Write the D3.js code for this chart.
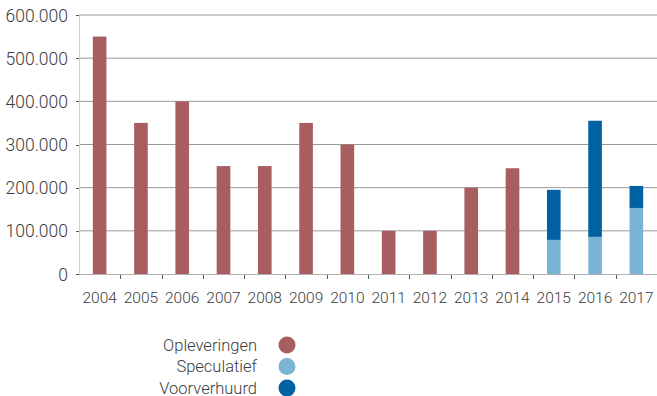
<!DOCTYPE html>
<html><head><meta charset="utf-8">
<script src="https://cdn.jsdelivr.net/npm/d3@7"></script>
<style>body{margin:0;background:#fff;} text{font-family:Roboto, "DejaVu Sans", sans-serif;}</style>
</head><body>
<svg id="c" width="657" height="396"></svg>
<script>
const years = ["2004","2005","2006","2007","2008","2009","2010","2011","2012","2013","2014","2015","2016","2017"];
const opleveringen = [550000,350000,400000,250000,250000,350000,300000,100000,100000,200000,245000,0,0,0];
const speculatief = [0,0,0,0,0,0,0,0,0,0,0,79000,86000,153000];
const voorverhuurd = [0,0,0,0,0,0,0,0,0,0,0,116000,269000,51000];
const yTicks = [0,100000,200000,300000,400000,500000,600000];
const seriesNames = ["Opleveringen","Speculatief","Voorverhuurd"];
const colors = ["#a85e60","#7ab4d4","#0061a3"];

const svg = d3.select("#c");
const x = d3.scaleBand().domain(years).range([79,657]).paddingInner(0.67).paddingOuter(0.335);
const xb = d3.scaleBand().domain(years).range([79,657]);
const y = d3.scaleLinear().domain([0,600000]).range([274,15]);
const fmt = v => v===0 ? "0" : d3.format(",")(v).replace(/,/g,".");

// gridlines
svg.append("g").selectAll("line").data(yTicks.filter(d=>d>0)).join("line")
  .attr("x1",79).attr("x2",657).attr("y1",d=>y(d)).attr("y2",d=>y(d))
  .attr("stroke","#9a9a9a").attr("stroke-width",1);
// y axis line
svg.append("line").attr("x1",79.5).attr("x2",79.5).attr("y1",15).attr("y2",274).attr("stroke","#d0d0d0");
// y ticks
svg.append("g").selectAll("line").data(yTicks).join("line")
  .attr("x1",76).attr("x2",79).attr("y1",d=>Math.round(y(d))+0.5).attr("y2",d=>Math.round(y(d))+0.5).attr("stroke","#555");
svg.append("g").selectAll("text").data(yTicks).join("text")
  .attr("x",68).attr("y",d=>y(d)+6.5).attr("text-anchor","end")
  .attr("font-size",17.5).attr("fill","#3c3c3c").attr("font-weight",300).text(fmt);

// stacked data
const rows = years.map((yr,i)=>({year:yr, Opleveringen:opleveringen[i], Speculatief:speculatief[i], Voorverhuurd:voorverhuurd[i]}));
const stack = d3.stack().keys(seriesNames)(rows);
svg.append("g").selectAll("g").data(stack).join("g")
  .attr("fill",(d,i)=>colors[i])
  .selectAll("rect").data(d=>d.filter(p=>p[1]-p[0]>0)).join("rect")
  .attr("x",d=>x(d.data.year)).attr("width",x.bandwidth())
  .attr("y",d=>y(d[1])).attr("height",d=>y(d[0])-y(d[1]));

// x axis
svg.append("line").attr("x1",79).attr("x2",657).attr("y1",274.5).attr("y2",274.5).attr("stroke","#b0b0b0");
svg.append("g").selectAll("line").data(years.slice(1)).join("line")
  .attr("x1",d=>Math.round(xb(d))+0.5).attr("x2",d=>Math.round(xb(d))+0.5).attr("y1",275).attr("y2",279).attr("stroke","#555");
svg.append("g").selectAll("text").data(years).join("text")
  .attr("x",d=>xb(d)+xb.bandwidth()/2).attr("y",303).attr("text-anchor","middle")
  .attr("font-size",15.5).attr("fill","#3c3c3c").attr("font-weight",300).text(d=>d);

// legend
const lg = svg.append("g").selectAll("g").data(seriesNames).join("g")
  .attr("transform",(d,i)=>`translate(0,${345+i*21.5})`);
lg.append("text").attr("x",257).attr("y",5.5).attr("text-anchor","end")
  .attr("font-size",16.5).attr("fill","#3c3c3c").attr("font-weight",300).text(d=>d);
lg.append("circle").attr("cx",287).attr("cy",0).attr("r",8.5).attr("fill",(d,i)=>colors[i]);
</script>
</body></html>
